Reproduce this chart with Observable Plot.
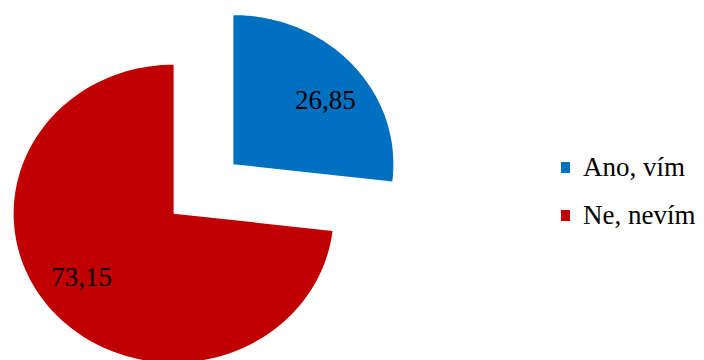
<!DOCTYPE html>
<html>
<head>
<meta charset="utf-8">
<script src="https://cdn.jsdelivr.net/npm/d3@7"></script>
<script src="https://cdn.jsdelivr.net/npm/@observablehq/plot@0.6"></script>
<style>
  html, body { margin: 0; padding: 0; background: #fff; }
  #wrap { position: relative; width: 704px; height: 360px; overflow: hidden; }
  #legend { position: absolute; left: 561px; top: 143px; font-family: 'Liberation Serif', serif; font-size: 27px; color: #000; }
  .item { display: flex; align-items: center; height: 48.5px; }
  .sw { width: 9px; height: 11px; margin-right: 13px; }
</style>
</head>
<body>
<div id="wrap"></div>
<script>
const categories = ["Ano, vím", "Ne, nevím"];
const values = [26.85, 73.15];
const labels = ["26,85", "73,15"];
const colors = ["#0070C0", "#C00000"];

const explode = 0.25;
const labelRadiusX = 0.77;
const labelRadiusY = 0.645;
const serif = "'Liberation Serif', serif";

const arcs = d3.pie().sort(null).value(d => d)(values);
const points = [];
const textData = [];
arcs.forEach((a, i) => {
  const mid = (a.startAngle + a.endAngle) / 2;
  const ox = explode * Math.sin(mid), oy = explode * Math.cos(mid);
  points.push({cat: categories[i], u: ox, v: oy});
  const n = 120;
  for (let k = 0; k <= n; k++) {
    const t = a.startAngle + (a.endAngle - a.startAngle) * k / n;
    points.push({cat: categories[i], u: ox + Math.sin(t), v: oy + Math.cos(t)});
  }
  points.push({cat: categories[i], u: ox, v: oy});
  textData.push({label: labels[i], u: ox + labelRadiusX * Math.sin(mid), v: oy + labelRadiusY * Math.cos(mid)});
});

const chart = Plot.plot({
  width: 704,
  height: 360,
  margin: 0,
  style: {fontFamily: serif},
  x: {domain: [-203 / 160, (704 - 203) / 160], axis: null},
  y: {domain: [(188.4 - 360) / 149, 188.4 / 149], axis: null},
  color: {domain: categories, range: colors},
  marks: [
    Plot.line(points, {x: "u", y: "v", z: "cat", fill: "cat", stroke: "none", curve: "linear-closed"}),
    Plot.text(textData, {x: "u", y: "v", text: "label", fontSize: 27, fontFamily: serif, fill: "#000"})
  ]
});
document.getElementById("wrap").appendChild(chart);

const legend = document.createElement("div");
legend.id = "legend";
legend.style.fontFamily = serif;
categories.forEach((c, i) => {
  const item = document.createElement("div");
  item.className = "item";
  const sw = document.createElement("div");
  sw.className = "sw";
  sw.style.background = colors[i];
  const tx = document.createElement("span");
  tx.textContent = c;
  item.appendChild(sw);
  item.appendChild(tx);
  legend.appendChild(item);
});
document.getElementById("wrap").appendChild(legend);
</script>
</body>
</html>
